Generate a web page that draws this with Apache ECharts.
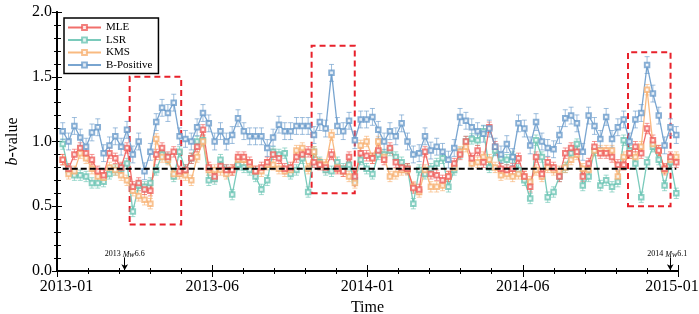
<!DOCTYPE html>
<html>
<head>
<meta charset="utf-8">
<script src="https://cdn.jsdelivr.net/npm/echarts@6/dist/echarts.min.js"></script>
<style>
  html, body { margin: 0; padding: 0; background: #fff; }
  #chart { width: 699px; height: 314px; }
</style>
</head>
<body>
<div id="chart"></div>
<script>
// x axis runs 0..20, a label every 5 units
const tickLabels = ['2013-01', '2013-06', '2014-01', '2014-06', '2015-01'];
// weekly samples: where the first one sits on the x axis and the step between them
const X_START = 0.184;
const X_STEP = 0.1882;

const mle = [
  0.86, 0.79, 0.90, 0.95, 0.91, 0.86, 0.77, 0.74, 0.91, 0.87, 0.80, 0.95, 0.65, 0.68, 0.63, 0.62, 0.90,
  0.95, 0.88, 0.92, 0.77, 0.78, 0.87, 0.96, 1.09, 0.80, 0.73, 0.81, 0.78, 0.78, 0.88, 0.88, 0.84, 0.77, 0.80,
  0.84, 0.90, 0.87, 0.79, 0.80, 0.88, 0.90, 0.92, 0.84, 0.82, 0.80, 0.90, 0.79, 0.77, 0.88, 0.73, 0.91, 0.89,
  0.87, 0.93, 0.86, 0.95, 0.84, 0.80, 0.79, 0.64, 0.63, 0.92, 0.75, 0.74, 0.70, 0.73, 0.83, 0.90, 1.00, 0.87,
  0.93, 0.84, 1.11, 0.96, 0.79, 0.78, 0.79, 0.87, 0.73, 0.65, 0.88, 0.75, 0.84, 0.80, 0.73, 0.91, 0.95, 0.92,
  0.73, 0.83, 0.96, 0.91, 0.91, 0.88, 0.82, 0.82, 0.91, 0.96, 0.91, 1.10, 1.01, 0.93, 0.79, 0.88, 0.84
];
const lsr = [
  0.98, 0.78, 0.74, 0.74, 0.73, 0.68, 0.68, 0.69, 0.75, 0.78, 0.79, 0.83, 0.46, 0.66, 0.65, 0.68, 0.78,
  0.90, 0.87, 0.73, 0.92, 0.78, 0.87, 1.00, 1.01, 0.70, 0.71, 0.86, 0.78, 0.59, 0.82, 0.80, 0.78, 0.73, 0.63,
  0.70, 0.92, 0.90, 0.91, 0.75, 0.78, 0.87, 0.61, 0.92, 0.84, 0.78, 0.77, 0.84, 0.79, 0.82, 0.70, 0.86, 0.79,
  0.75, 0.90, 0.90, 0.93, 0.88, 0.84, 0.79, 0.52, 0.78, 0.75, 0.79, 0.83, 0.87, 0.65, 0.78, 0.91, 1.00, 1.02,
  1.01, 1.08, 0.80, 0.93, 0.87, 0.86, 0.88, 0.78, 0.70, 0.56, 1.01, 0.88, 0.57, 0.61, 0.73, 0.80, 0.91, 0.98,
  0.66, 0.73, 0.93, 0.66, 0.70, 0.65, 0.69, 1.01, 0.93, 0.83, 0.57, 0.84, 0.96, 0.86, 0.66, 0.84, 0.60
];
const kms = [
  0.86, 0.75, 0.77, 0.91, 0.87, 0.79, 0.73, 0.72, 0.80, 0.78, 0.74, 0.70, 0.62, 0.58, 0.55, 0.52, 1.02,
  0.88, 0.86, 0.75, 0.75, 0.74, 0.70, 0.88, 1.00, 0.78, 0.78, 0.78, 0.75, 0.78, 0.86, 0.86, 0.82, 0.77, 0.77,
  0.82, 0.82, 0.79, 0.77, 0.78, 0.93, 0.95, 0.79, 0.92, 0.83, 0.82, 1.05, 0.80, 0.77, 0.73, 0.68, 0.97, 1.00,
  0.87, 1.00, 0.88, 0.73, 0.75, 0.78, 0.78, 0.65, 0.61, 0.78, 0.65, 0.65, 0.66, 0.73, 0.80, 0.92, 0.96, 0.83,
  0.84, 0.88, 0.86, 0.80, 0.74, 0.75, 0.73, 0.75, 0.73, 0.69, 0.78, 0.73, 0.80, 0.78, 0.77, 0.80, 0.86, 0.90,
  0.79, 0.78, 0.93, 0.93, 0.93, 0.93, 0.73, 0.88, 0.91, 0.88, 0.96, 1.40, 0.98, 0.93, 0.78, 0.86, 0.88
];
const bPositive = [
  1.08, 1.00, 1.12, 1.03, 0.96, 1.07, 1.11, 0.91, 0.97, 1.04, 0.96, 1.09, 0.90, 1.00, 0.77, 0.92, 1.15,
  1.26, 1.22, 1.30, 1.04, 1.02, 1.00, 1.11, 1.22, 1.14, 1.00, 1.08, 1.00, 1.05, 1.18, 1.08, 1.04, 1.04, 1.04,
  0.95, 1.03, 1.13, 1.08, 1.08, 1.12, 1.12, 1.12, 1.05, 1.15, 1.10, 1.53, 1.12, 1.08, 1.16, 1.01, 1.17, 1.17,
  1.19, 1.09, 1.00, 1.08, 1.04, 1.14, 1.00, 0.90, 0.91, 1.04, 0.93, 0.96, 0.92, 0.86, 0.95, 1.19, 1.16, 1.11,
  1.08, 1.06, 1.10, 0.96, 0.90, 0.98, 0.88, 1.14, 1.10, 0.97, 1.15, 1.00, 0.95, 0.94, 1.05, 1.18, 1.20, 1.14,
  0.92, 1.20, 1.12, 1.02, 1.19, 1.02, 1.11, 1.17, 1.00, 1.17, 1.22, 1.59, 1.37, 1.20, 0.97, 1.11, 1.05
];
// half length of the error bars
const errMle = 0.04;
const errLsr = 0.04;
const errKms = 0.04;
const errBPositive = 0.065;

const refLevel = 0.79;
// dashed boxes: [x0, y0, x1, y1]
const boxes = [[2.34, 0.36, 4.0, 1.50], [8.2, 0.60, 9.59, 1.74], [18.39, 0.50, 19.76, 1.69]];
const quakes = [
  { x: 2.18, year: '2013', mag: '6.6', shift: 0 },
  { x: 19.75, year: '2014', mag: '6.1', shift: -3 }
];

const FONT = 'Liberation Serif';

function toPoints(vals) {
  return vals.map((v, i) => [X_START + i * X_STEP, v]);
}
function toBars(vals, e) {
  return vals.map((v, i) => [X_START + i * X_STEP, v - e, v + e]);
}

function errorBars(color) {
  return function (params, api) {
    const x = api.value(0);
    const lo = api.coord([x, api.value(1)]);
    const hi = api.coord([x, api.value(2)]);
    const w = 2.5;
    const style = { stroke: color, lineWidth: 1, opacity: 0.65 };
    return {
      type: 'group',
      children: [
        { type: 'line', shape: { x1: lo[0], y1: lo[1], x2: hi[0], y2: hi[1] }, style: style },
        { type: 'line', shape: { x1: lo[0] - w, y1: lo[1], x2: lo[0] + w, y2: lo[1] }, style: style },
        { type: 'line', shape: { x1: hi[0] - w, y1: hi[1], x2: hi[0] + w, y2: hi[1] }, style: style }
      ]
    };
  };
}

const sets = [
  { name: 'LSR', vals: lsr, err: errLsr, color: '#6cc4b4' },
  { name: 'KMS', vals: kms, err: errKms, color: '#f8b273' },
  { name: 'MLE', vals: mle, err: errMle, color: '#ef5f5c' },
  { name: 'B-Positive', vals: bPositive, err: errBPositive, color: '#6a9bcb' }
];

const series = [];
sets.forEach(s => {
  series.push({
    type: 'custom',
    renderItem: errorBars(s.color),
    data: toBars(s.vals, s.err),
    encode: { x: 0, y: [1, 2] },
    silent: true,
    z: 2
  });
  series.push({
    name: s.name,
    type: 'line',
    data: toPoints(s.vals),
    symbol: 'emptyRect',
    symbolSize: 4.5,
    color: s.color,
    lineStyle: { width: 1.3, opacity: 0.9 },
    itemStyle: { borderWidth: 1, opacity: 0.8 },
    z: 3
  });
});

// reference level, boxes and quake arrows
series.push({
  type: 'line',
  data: [[X_START, refLevel], [X_START + (mle.length - 1) * X_STEP, refLevel]],
  symbol: 'none',
  lineStyle: { color: '#000', width: 2, type: [6, 3] },
  silent: true,
  z: 4,
  markArea: {
    silent: true,
    itemStyle: { color: 'transparent', borderColor: '#e8212b', borderWidth: 2, borderType: [6, 4] },
    data: boxes.map(b => [{ coord: [b[0], b[1]] }, { coord: [b[2], b[3]] }])
  },
  markLine: {
    silent: true,
    symbol: ['none', 'arrow'],
    symbolSize: [5, 6],
    lineStyle: { color: '#000', width: 1, type: 'solid' },
    label: {
      show: true,
      position: 'start',
      distance: 2,
      rich: {
        a: { fontFamily: FONT, fontSize: 8, color: '#000' },
        i: { fontFamily: FONT, fontSize: 8, fontStyle: 'italic', color: '#000' }
      }
    },
    data: quakes.map(q => [
      { coord: [q.x, 0.105], label: { formatter: '{a|' + q.year + ' }{i|Mw}{a|' + q.mag + '}', offset: [q.shift, 3] } },
      { coord: [q.x, 0.005] }
    ])
  }
});

const chart = echarts.init(document.getElementById('chart'));
chart.setOption({
  animation: false,
  grid: { left: 57, right: 21, top: 12, bottom: 43, outerBoundsMode: 'none' },
  legend: {
    data: ['MLE', 'LSR', 'KMS', 'B-Positive'],
    orient: 'vertical',
    left: 64,
    top: 18,
    padding: [4, 6, 3, 3],
    itemWidth: 33,
    itemHeight: 6,
    itemGap: 1.5,
    borderColor: '#000',
    borderWidth: 1.5,
    borderRadius: 0,
    backgroundColor: '#fff',
    textStyle: { fontFamily: FONT, fontSize: 11, color: '#000' }
  },
  xAxis: [
    {
      type: 'value', min: 0, max: 20, interval: 5, position: 'bottom',
      axisLine: { lineStyle: { color: '#000', width: 2 } },
      axisTick: { length: 6, lineStyle: { color: '#000', width: 1 } },
      minorTick: { show: true, splitNumber: 5, length: 3, lineStyle: { color: '#000', width: 1 } },
      splitLine: { show: false },
      axisLabel: {
        formatter: v => {
          const i = Math.round(v / 5);
          if (i === 0) return '{first|' + tickLabels[i] + '}';
          if (i === tickLabels.length - 1) return '{last|' + tickLabels[i] + '}';
          return '{mid|' + tickLabels[i] + '}';
        },
        color: '#000', fontFamily: FONT, fontSize: 16, margin: 8,
        rich: {
          first: { fontFamily: FONT, fontSize: 16, color: '#000', padding: [0, 0, 0, 19] },
          mid: { fontFamily: FONT, fontSize: 16, color: '#000' },
          last: { fontFamily: FONT, fontSize: 16, color: '#000', padding: [0, 12, 0, 0] }
        }
      },
      name: 'Time', nameLocation: 'middle', nameGap: 26,
      nameTextStyle: { fontFamily: FONT, fontSize: 16, color: '#000' }
    },
    {
      type: 'value', min: 0, max: 20, interval: 5, position: 'top',
      axisLine: { lineStyle: { color: '#000', width: 1.5 } },
      axisTick: { length: 6, lineStyle: { color: '#000', width: 1 } },
      minorTick: { show: true, splitNumber: 5, length: 3, lineStyle: { color: '#000', width: 1 } },
      splitLine: { show: false },
      axisLabel: { show: false }
    }
  ],
  yAxis: [
    {
      type: 'value', min: 0, max: 2, interval: 0.5, position: 'left',
      axisLine: { show: true, lineStyle: { color: '#000', width: 2 } },
      axisTick: { show: true, length: 5, lineStyle: { color: '#000', width: 1 } },
      minorTick: { show: true, splitNumber: 5, length: 3, lineStyle: { color: '#000', width: 1 } },
      splitLine: { show: false },
      axisLabel: { formatter: v => v.toFixed(1), color: '#000', fontFamily: FONT, fontSize: 16, margin: 5 },
      name: '{b|b}{v|-value}', nameLocation: 'middle', nameGap: 36,
      nameTextStyle: {
        rich: {
          b: { fontFamily: FONT, fontSize: 16, fontStyle: 'italic', color: '#000' },
          v: { fontFamily: FONT, fontSize: 16, color: '#000' }
        }
      }
    },
    {
      type: 'value', min: 0, max: 2, interval: 0.5, position: 'right',
      axisLine: { show: true, lineStyle: { color: '#000', width: 2 } },
      axisTick: { show: true, length: 5, lineStyle: { color: '#000', width: 1 } },
      minorTick: { show: true, splitNumber: 5, length: 4, lineStyle: { color: '#000', width: 1 } },
      splitLine: { show: false },
      axisLabel: { show: false }
    }
  ],
  series: series
});
</script>
</body>
</html>
